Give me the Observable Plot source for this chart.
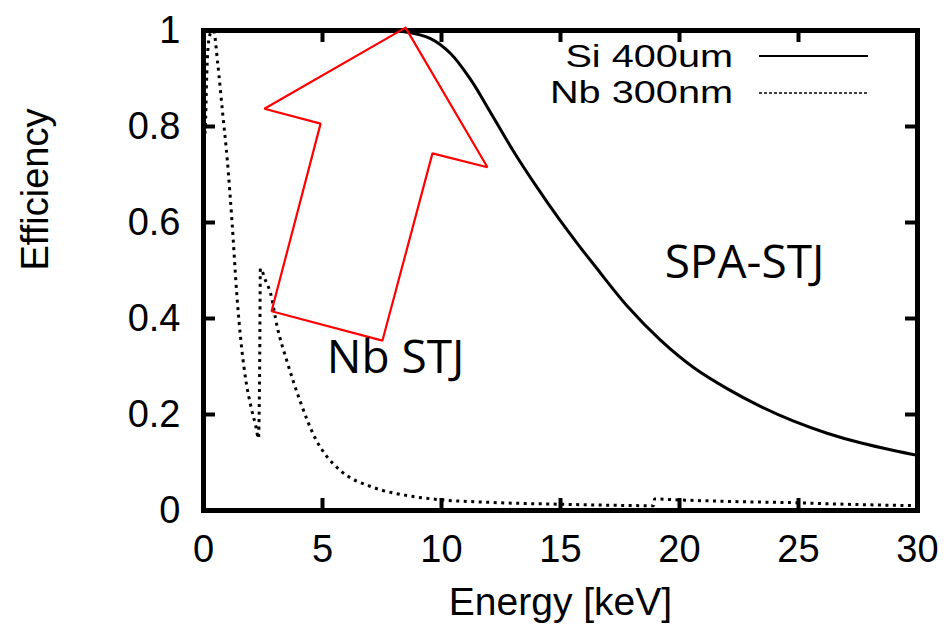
<!DOCTYPE html>
<html><head><meta charset="utf-8">
<script src="https://cdn.jsdelivr.net/npm/d3@7"></script>
<script src="https://cdn.jsdelivr.net/npm/@observablehq/plot@0.6"></script>
<style>
html,body{margin:0;padding:0;background:#fff;}
#chart svg{display:block;}
</style></head><body><div id="chart"></div>
<script>
// ---- data ----
const xTicks = [0, 5, 10, 15, 20, 25, 30];
const xTickLabels = ["0", "5", "10", "15", "20", "25", "30"];
const yTicks = [0, 0.2, 0.4, 0.6, 0.8, 1];
const yTickLabels = ["0", "0.2", "0.4", "0.6", "0.8", "1"];
const seriesNames = ["Si 400um", "Nb 300nm"];

const siEnergy = [0, 2, 4, 6, 7.5, 8.5, 9.54, 10.38, 11.22, 12.06, 13.03, 14.03, 14.87, 15.71, 16.39, 17.82, 19.2, 20.59, 22.0, 23.4, 24.8, 26.2, 27.6, 29.0, 30];
const siEff    = [1, 1, 1, 1, 0.999, 0.997, 0.983, 0.952, 0.898, 0.829, 0.748, 0.672, 0.612, 0.556, 0.513, 0.425, 0.355, 0.298, 0.254, 0.217, 0.186, 0.161, 0.141, 0.125, 0.115];

const nbEnergy = [0.02, 0.08, 0.12, 0.2, 0.3, 0.42, 0.6, 0.8, 1.0, 1.2, 1.4, 1.6, 1.8, 2.0, 2.2, 2.31, 2.36, 2.39, 2.6, 2.82, 3.1, 3.5, 4.08, 4.7, 5.0, 5.76, 7.14, 8.57, 9.83, 12, 15, 17, 18.9, 18.95, 20, 22, 25, 27, 30];
const nbEff    = [0.77, 0.80, 0.88, 0.97, 0.995, 1.0, 0.93, 0.83, 0.73, 0.60, 0.45, 0.34, 0.265, 0.215, 0.175, 0.150, 0.30, 0.504, 0.48, 0.452, 0.382, 0.312, 0.225, 0.15, 0.125, 0.083, 0.048, 0.031, 0.023, 0.017, 0.013, 0.011, 0.010, 0.024, 0.022, 0.019, 0.016, 0.013, 0.010];

// red outline arrow annotation (energy, efficiency)
const arrowEnergy = [8.49, 11.93, 9.62, 7.52, 2.86, 4.92, 2.56, 8.49];
const arrowEff    = [1.006, 0.715, 0.744, 0.354, 0.415, 0.806, 0.837, 1.006];

const noteText   = ["SPA-STJ", "Nb STJ"];
const noteEnergy = [22.73, 8.07];
const noteEff    = [0.4854, 0.2875];

// ---- build tables ----
const si = siEnergy.map((e, i) => ({e, v: siEff[i]}));
const nb = nbEnergy.map((e, i) => ({e, v: nbEff[i]}));
const arrow = arrowEnergy.map((e, i) => ({e, v: arrowEff[i]}));
const notes = noteText.map((t, i) => ({t, e: noteEnergy[i], v: noteEff[i]}));

const FONT = "'Liberation Sans', Arial, Helvetica, sans-serif";
const TICK = 12;

function legendMark(index, scales, values, dims) {
  const g = d3.create("svg:g").attr("font-family", FONT);
  const right = dims.width - dims.marginRight;
  const top = dims.marginTop;
  const styles = [{dash: null, w: 2}, {dash: "3,2", w: 1.6}];
  seriesNames.forEach((name, i) => {
    const yLine = top + 26 + i * 37;
    g.append("text")
      .attr("transform", `translate(${right - 184},${top + 37 + i * 36}) scale(1.28,1)`)
      .attr("text-anchor", "end")
      .attr("font-size", 31)
      .attr("fill", "#000")
      .text(name);
    g.append("line")
      .attr("x1", right - 158).attr("x2", right - 49)
      .attr("y1", yLine).attr("y2", yLine)
      .attr("stroke", "#000")
      .attr("stroke-width", styles[i].w)
      .attr("stroke-dasharray", styles[i].dash);
  });
  return g.node();
}

const plot = Plot.plot({
  width: 947,
  height: 628,
  marginLeft: 203,
  marginRight: 30,
  marginTop: 30,
  marginBottom: 118,
  style: {fontFamily: FONT, background: "#fff", color: "#000", overflow: "visible"},
  x: {domain: [0, 30]},
  y: {domain: [0, 1]},
  marks: [
    Plot.axisX({ticks: xTicks, tickSize: 0, tickPadding: 25, fontSize: 38, label: null,
      tickFormat: d => xTickLabels[xTicks.indexOf(d)]}),
    Plot.axisY({ticks: yTicks, tickSize: 0, tickPadding: 23, fontSize: 38, label: null,
      tickFormat: d => yTickLabels[yTicks.indexOf(d)]}),
    Plot.text(["Energy [keV]"], {frameAnchor: "bottom", lineAnchor: "bottom", dy: 104, fontSize: 39, fill: "#000"}),
    Plot.text(["Efficiency"], {frameAnchor: "left", dx: -168, rotate: -90, fontSize: 38, fill: "#000"}),
    // inward ticks
    Plot.ruleX(xTicks, {x: d => d, y1: 0, y2: 0, insetTop: -TICK, stroke: "#000", strokeWidth: 4}),
    Plot.ruleX(xTicks, {x: d => d, y1: 1, y2: 1, insetBottom: -TICK, stroke: "#000", strokeWidth: 4}),
    Plot.ruleY(yTicks, {y: d => d, x1: 0, x2: 0, insetRight: -TICK, stroke: "#000", strokeWidth: 4}),
    Plot.ruleY(yTicks, {y: d => d, x1: 30, x2: 30, insetLeft: -TICK, stroke: "#000", strokeWidth: 4}),
    // curves
    Plot.line(nb, {x: "e", y: "v", stroke: "#000", strokeWidth: 3, strokeDasharray: "3,4.5",
      strokeLinecap: "butt", curve: "monotone-x"}),
    Plot.line(si, {x: "e", y: "v", stroke: "#000", strokeWidth: 3, curve: "catmull-rom"}),
    Plot.frame({stroke: "#000", strokeWidth: 5}),
    // annotations
    Plot.line(arrow, {x: "e", y: "v", stroke: "#ff0000", strokeWidth: 2.2, strokeLinejoin: "miter"}),
    Plot.text(notes, {x: "e", y: "v", text: "t", fontFamily: "'Open Sans', 'Noto Sans', sans-serif",
      fontSize: 46, fill: "#000", lineAnchor: "bottom", textAnchor: "middle"}),
    legendMark
  ]
});
document.getElementById("chart").appendChild(plot);
</script></body></html>
